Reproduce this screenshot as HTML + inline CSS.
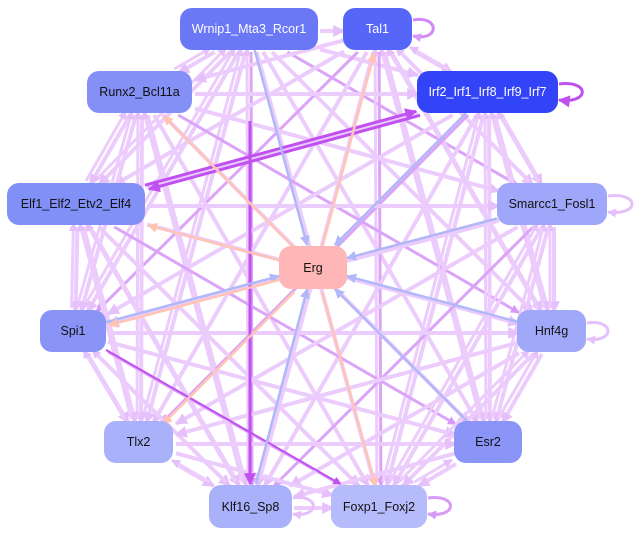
<!DOCTYPE html>
<html><head><meta charset="utf-8"><style>
html,body{margin:0;padding:0;background:#fff;width:638px;height:536px;overflow:hidden}
.n{position:absolute;border-radius:12px;display:flex;align-items:center;justify-content:center;font-family:"Liberation Sans",sans-serif;font-size:12.5px;color:#111}
.w{color:#fff}
</style></head><body>
<svg id="s" width="638" height="536" style="position:absolute;left:0;top:0">
<defs>
<marker id="a1" viewBox="0 0 10 10" refX="9" refY="5" markerWidth="3" markerHeight="3" orient="auto"><path d="M0,0L10,5L0,10z" fill="#e6c0fb"/></marker>
<marker id="a2" viewBox="0 0 10 10" refX="9" refY="5" markerWidth="3" markerHeight="3" orient="auto"><path d="M0,0L10,5L0,10z" fill="#d89af8"/></marker>
<marker id="a3" viewBox="0 0 10 10" refX="9" refY="5" markerWidth="4" markerHeight="4" orient="auto"><path d="M0,0L10,5L0,10z" fill="#c050f0"/></marker>
<marker id="ab" viewBox="0 0 10 10" refX="9" refY="5" markerWidth="4" markerHeight="4" orient="auto"><path d="M0,0L10,5L0,10z" fill="#b0b8f8"/></marker>
<marker id="ap" viewBox="0 0 10 10" refX="9" refY="5" markerWidth="4" markerHeight="4" orient="auto"><path d="M0,0L10,5L0,10z" fill="#ffc4b4"/></marker>
</defs>
<g id="g"></g>
<g fill="none" stroke-width="3">
<path d="M413,20 C440,15 440,42 413,36" stroke="#d08af8" marker-end="url(#a2)"/>
<path d="M559,84 C590,80 590,104 559,100" stroke="#c050f0" marker-end="url(#a3)"/>
<path d="M608,196 C640,192 640,216 608,212" stroke="#e6c0fb" marker-end="url(#a1)"/>
<path d="M587,323 C615,319 615,343 587,339" stroke="#e6c0fb" marker-end="url(#a1)"/>
<path d="M428,498 C458,494 458,518 428,514" stroke="#d89af8" marker-end="url(#a2)"/>
<path d="M293,498 C320,494 320,518 293,514" stroke="#e6c0fb" marker-end="url(#a1)"/>
</g>
</svg>
<div class="n w" style="left:180px;top:8px;width:138px;height:42px;background:#6b78f5">Wrnip1_Mta3_Rcor1</div>
<div class="n w" style="left:343px;top:8px;width:69px;height:42px;background:#5566f8">Tal1</div>
<div class="n" style="left:87px;top:71px;width:105px;height:42px;background:#8590f7">Runx2_Bcl11a</div>
<div class="n w" style="left:417px;top:71px;width:141px;height:42px;background:#3344f8">Irf2_Irf1_Irf8_Irf9_Irf7</div>
<div class="n" style="left:7px;top:183px;width:138px;height:42px;background:#8090f7">Elf1_Elf2_Etv2_Elf4</div>
<div class="n" style="left:497px;top:183px;width:110px;height:42px;background:#9ea7f9">Smarcc1_Fosl1</div>
<div class="n" style="left:279px;top:246px;width:68px;height:43px;background:#ffb6b6">Erg</div>
<div class="n" style="left:40px;top:310px;width:66px;height:42px;background:#8a94f7">Spi1</div>
<div class="n" style="left:517px;top:310px;width:69px;height:42px;background:#a0a9f9">Hnf4g</div>
<div class="n" style="left:104px;top:421px;width:69px;height:42px;background:#a9b1fa">Tlx2</div>
<div class="n" style="left:454px;top:421px;width:68px;height:42px;background:#8a95f7">Esr2</div>
<div class="n" style="left:209px;top:485px;width:83px;height:43px;background:#a9b1fa">Klf16_Sp8</div>
<div class="n" style="left:331px;top:485px;width:96px;height:43px;background:#b6bcfb">Foxp1_Foxj2</div>
<script>
var N=[[249,29,69,21],[377,29,35,21],[140,92,53,21],[487,92,71,21],[76,204,69,21],[552,204,55,21],[73,331,33,21],[552,331,35,21],[139,442,35,21],[488,442,34,21],[250,506,42,22],[379,506,48,22]];
var E=[313,267,34,22];
var g=document.getElementById('g'),NS='http://www.w3.org/2000/svg';
function clip(p,q){var dx=q[0]-p[0],dy=q[1]-p[1];var t=Math.min(p[2]/Math.abs(dx||1e-9),p[3]/Math.abs(dy||1e-9));return [p[0]+dx*t,p[1]+dy*t];}
function line(a,b,c,w,m,o){var s=clip(a,b),e=clip(b,a);var l=document.createElementNS(NS,'line');
l.setAttribute('x1',s[0]+(o||0));l.setAttribute('y1',s[1]+(o||0));l.setAttribute('x2',e[0]+(o||0));l.setAttribute('y2',e[1]+(o||0));
l.setAttribute('stroke',c);l.setAttribute('stroke-width',w);l.setAttribute('marker-end','url(#'+m+')');g.appendChild(l);}
for(var i=0;i<N.length;i++)for(var j=i+1;j<N.length;j++){
 var k=(i*7+j*3)%5;
 line(N[i],N[j],k==0?'#dba4f8':'#ecccfc',k==0?3:4,k==0?'a2':'a1',2);
 if((i+j)%2==0)line(N[j],N[i],'#ecccfc',3,'a1',-2);
}
line(N[4],N[3],'#c050f0',3,'a3',0);line(N[3],N[4],'#c050f0',3,'a3',4);
line(N[6],N[11],'#c050f0',2,'a3',0);
line([250,120,1,1],N[10],'#c050f0',3,'a3',0);
[0,3,5,7,9,10,6].forEach(function(i){line(N[i],E,'#b0b8f8',2.5,'ab',0);});
[1,2,4,6,8,11].forEach(function(i){line(E,N[i],'#ffc4b4',2.5,'ap',3);});
</script>
</body></html>
